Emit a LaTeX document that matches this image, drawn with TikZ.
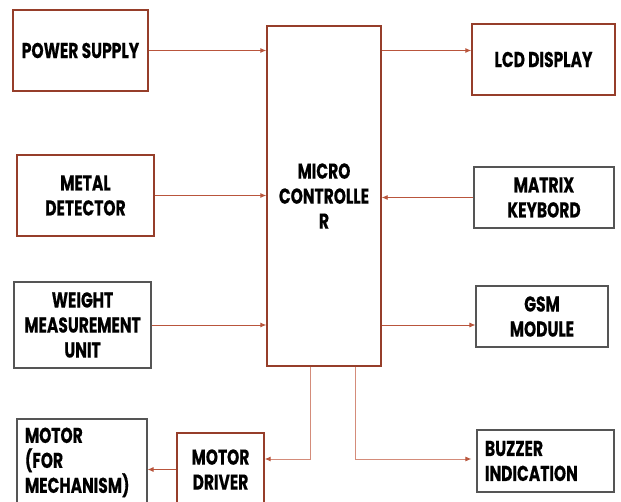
\documentclass[tikz,border=0pt]{standalone}
\usepackage{fontspec}
\setmainfont{Poppins}[FakeStretch=0.72,FakeBold=0.4]
\usetikzlibrary{arrows.meta}
\definecolor{boxbrown}{RGB}{150,62,42}
\definecolor{boxgray}{RGB}{85,85,85}
\definecolor{linebrown}{RGB}{185,85,60}
\definecolor{palebrown}{RGB}{212,140,122}
\tikzset{
  blk/.style={draw, rectangle, inner sep=0pt, align=center,
    font=\fontsize{21.5}{25}\selectfont\bfseries, text=black},
  brownbox/.style={blk, draw=boxbrown, line width=1.4pt},
  graybox/.style={blk, draw=boxgray, line width=1.1pt},
  conn/.style={draw=linebrown, line width=0.9pt, -{Latex[length=6pt,width=5pt]}},
  paletip/.style={draw=palebrown, line width=1pt, -{Latex[length=6pt,width=5pt,color=linebrown]}}
}
\begin{document}
\begin{tikzpicture}[x=1pt,y=-1pt]
\clip (0,0) rectangle (621,502);
\fill[white] (0,0) rectangle (621,502);
\node[brownbox, minimum width=135pt, minimum height=81pt] (ps) at (80.5,50.5) {POWER SUPPLY};
\node[brownbox, minimum width=137pt, minimum height=81pt] (md) at (85.5,195.5) {METAL\\DETECTOR};
\node[graybox, minimum width=137pt, minimum height=86pt] (wm) at (82.5,325) {WEIGHT\\MEASUREMENT\\UNIT};
\node[graybox, minimum width=130pt, minimum height=87pt, text width=114pt, align=left] (mo) at (82,462.5) {MOTOR\\(FOR\\MECHANISM)};
\node[brownbox, minimum width=87pt, minimum height=73pt] (drv) at (220.5,469.5) {MOTOR\\DRIVER};
\node[brownbox, minimum width=114pt, minimum height=340pt] (mc) at (324,196) {MICRO\\CONTROLLE\\R};
\node[brownbox, minimum width=143pt, minimum height=71pt] (lcd) at (543.5,59.5) {LCD DISPLAY};
\node[graybox, minimum width=140pt, minimum height=61pt] (kb) at (544,197.5) {MATRIX\\KEYBORD};
\node[graybox, minimum width=132pt, minimum height=61pt] (gsm) at (542,316.5) {GSM\\MODULE};
\node[graybox, minimum width=137pt, minimum height=62pt, text width=121pt, align=left] (bz) at (545.5,461) {BUZZER\\INDICATION};
\coordinate (b1) at (310,459);
\coordinate (b2) at (355,459);
\draw[conn] (ps.east) -- (ps.east -| mc.west);
\draw[conn] (md.east) -- (md.east -| mc.west);
\draw[conn] (wm.east) -- (wm.east -| mc.west);
\draw[conn] (mc.east |- ps.east) -- (ps.east -| lcd.west);
\draw[conn] (kb.west) -- (kb.west -| mc.east);
\draw[conn] (mc.east |- wm.east) -- (wm.east -| gsm.west);
\draw[paletip] (mc.south -| b1) -- (b1) -- (b1 -| drv.east);
\draw[paletip] (mc.south -| b2) -- (b2) -- ([xshift=-5pt]b2 -| bz.west);
\draw[conn] (drv.west) -- (mo.east |- drv.west);
\end{tikzpicture}
\end{document}
